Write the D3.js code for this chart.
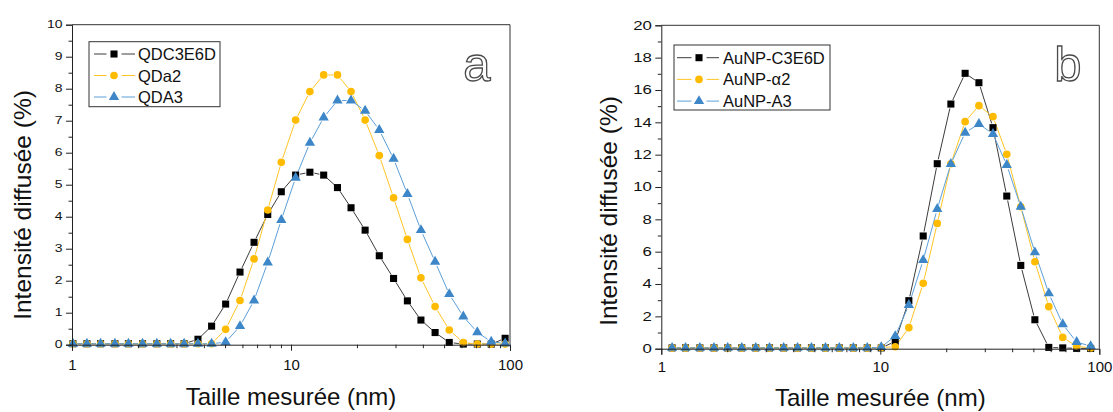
<!DOCTYPE html>
<html><head><meta charset="utf-8">
<script src="https://cdn.jsdelivr.net/npm/d3@7"></script>
<style>
body{margin:0;background:#fff}
svg{display:block}
text{font-family:"Liberation Sans", Arial, Helvetica, sans-serif; fill:#111}
</style>
</head><body>
<svg id="c" width="1113" height="412"></svg>
<script>
// ---------- DATA ----------
const sizesA = [1.01,1.17,1.35,1.57,1.81,2.10,2.44,2.82,3.25,3.76,4.34,5.03,5.85,6.78,7.83,9.03,10.5,12.2,14.1,16.3,18.8,21.8,25.3,29.4,34.0,39.2,45.5,52.8,61.2,70.9,82.1,95.0];
const qdc3e6d = [0.03,0.03,0.03,0.03,0.03,0.03,0.03,0.03,0.03,0.17,0.58,1.27,2.27,3.20,4.07,4.78,5.30,5.39,5.30,4.91,4.28,3.58,2.78,2.07,1.37,0.77,0.38,0.07,0.02,0.02,0.02,0.20];
const qda2    = [0.03,0.03,0.03,0.03,0.03,0.03,0.03,0.03,0.03,0.03,0.03,0.48,1.38,2.68,4.21,5.70,7.02,7.91,8.43,8.43,7.91,7.02,5.91,4.59,3.29,2.09,1.19,0.46,0.07,0.02,0.02,0.02];
const qda3    = [0.03,0.03,0.03,0.03,0.03,0.03,0.03,0.03,0.03,0.03,0.03,0.08,0.58,1.38,2.57,3.90,5.22,6.31,7.10,7.63,7.63,7.31,6.71,5.81,4.71,3.58,2.59,1.58,0.88,0.39,0.09,0.04];

const sizesB = [1.12,1.29,1.50,1.74,2.01,2.33,2.70,3.12,3.62,4.19,4.85,5.62,6.50,7.53,8.72,10.1,11.7,13.5,15.7,18.2,21.0,24.4,28.2,32.7,37.8,43.8,50.8,58.8,68.1,78.8,91.3];
const aunpC3E6D = [0.05,0.05,0.05,0.05,0.05,0.05,0.05,0.05,0.05,0.05,0.05,0.05,0.05,0.05,0.05,0.05,0.45,2.97,6.97,11.44,15.13,17.03,16.45,13.67,9.44,5.15,1.79,0.08,0.05,0.02,0.02];
const aunpA2    = [0.05,0.05,0.05,0.05,0.05,0.05,0.05,0.05,0.05,0.05,0.05,0.05,0.05,0.05,0.05,0.08,0.12,1.30,4.04,7.75,11.44,14.04,15.03,14.35,12.02,8.78,5.38,2.60,0.70,0.15,0.05];
const aunpA3    = [0.05,0.05,0.05,0.05,0.05,0.05,0.05,0.05,0.05,0.05,0.05,0.05,0.05,0.05,0.05,0.10,0.78,2.70,5.48,8.64,11.42,13.36,13.90,13.28,11.36,8.78,5.96,3.42,1.51,0.41,0.16];

const namesA = ["QDC3E6D","QDa2","QDA3"];
const namesB = ["AuNP-C3E6D","AuNP-\u03b12","AuNP-A3"];
const xTickValues = [1,10,100];
const yTicksA = [0,1,2,3,4,5,6,7,8,9,10];
const yTicksB = [0,2,4,6,8,10,12,14,16,18,20];
const xTitle = "Taille mesur\u00e9e (nm)";
const yTitle = "Intensit\u00e9 diffus\u00e9e (%)";
const panelLetters = ["a","b"];

// ---------- STYLE ----------
const styles = [
  {marker:"#000000", line:"#3c3c3c", sym:d3.symbolSquare, size:50},
  {marker:"#ffbb00", line:"#ffc526", sym:d3.symbolCircle, size:46},
  {marker:"#3d87c9", line:"#5d9fd8", sym:d3.symbolTriangle, size:46}
];

const svg = d3.select("#c");

function panel(cfg){
  const g = svg.append("g");
  const x = d3.scaleLog().domain([1,100]).range([cfg.left,cfg.right]);
  const y = d3.scaleLinear().domain([0,cfg.ymax]).range([cfg.bottom,cfg.top]);

  // series lines with gaps around symbols
  const gap = cfg.gap;
  cfg.series.forEach((vals,si)=>{
    const pts = cfg.sizes.map((s,i)=>[x(s),y(vals[i])]);
    const lg = g.append("g");
    for(let i=0;i<pts.length-1;i++){
      const [x0,y0]=pts[i],[x1,y1]=pts[i+1];
      const dx=x1-x0, dy=y1-y0, d=Math.hypot(dx,dy);
      if(d<=2*gap) continue;
      const ux=dx/d, uy=dy/d;
      lg.append("line")
        .attr("x1",x0+ux*gap).attr("y1",y0+uy*gap)
        .attr("x2",x1-ux*gap).attr("y2",y1-uy*gap)
        .attr("stroke",styles[si].line).attr("stroke-width",1);
    }
  });
  cfg.series.forEach((vals,si)=>{
    const st=styles[si];
    g.append("g").selectAll("path").data(cfg.sizes.map((s,i)=>[s,vals[i]])).join("path")
      .attr("transform",d=>`translate(${x(d[0])},${y(d[1])})`)
      .attr("d",d3.symbol(st.sym,st.size))
      .attr("fill",st.marker);
  });

  // frame
  g.append("path")
    .attr("d",`M${cfg.left},${cfg.top}H${cfg.right}V${cfg.bottom}`)
    .attr("fill","none").attr("stroke","#333").attr("stroke-width",1);

  // x axis
  const minorX = x.ticks().filter(v=>!xTickValues.includes(v));
  const xa = g.append("g").attr("transform",`translate(0,${cfg.bottom})`)
    .call(d3.axisBottom(x).tickValues(xTickValues).tickSize(6).tickFormat(d3.format("d")));
  xa.select(".domain").attr("stroke","#222");
  xa.selectAll(".tick line").attr("stroke","#222");
  xa.selectAll(".tick text").attr("y",cfg.xLabelOff).attr("dy","0")
    .style("font-size","15px").style("font-family",'"Liberation Sans", Arial, sans-serif').attr("fill","#111");
  const xm = g.append("g").attr("transform",`translate(0,${cfg.bottom})`)
    .call(d3.axisBottom(x).tickValues(minorX).tickSize(3.5).tickFormat(""));
  xm.select(".domain").remove();
  xm.selectAll(".tick line").attr("stroke","#222");

  // y axis
  const ya = g.append("g").attr("transform",`translate(${cfg.left},0)`)
    .call(d3.axisLeft(y).tickValues(cfg.yTicks).tickSize(6).tickFormat(d3.format("d")));
  ya.select(".domain").attr("stroke","#222");
  ya.selectAll(".tick line").attr("stroke","#222");
  ya.selectAll(".tick text")
    .style("font-size",cfg.yFont+"px").style("font-family",'"Liberation Sans", Arial, sans-serif').attr("fill","#111")
    .attr("x",-cfg.yLabelOff/cfg.yStretch)
    .attr("transform",`scale(${cfg.yStretch},1)`);
  const step = cfg.yTicks[1]-cfg.yTicks[0];
  const minorY = cfg.yTicks.slice(0,-1).map(v=>v+step/2);
  const ym = g.append("g").attr("transform",`translate(${cfg.left},0)`)
    .call(d3.axisLeft(y).tickValues(minorY).tickSize(3.5).tickFormat(""));
  ym.select(".domain").remove();
  ym.selectAll(".tick line").attr("stroke","#222");

  // titles
  g.append("text").attr("x",(cfg.left+cfg.right)/2).attr("y",cfg.xTitleY)
    .attr("text-anchor","middle").style("font-size","24px").text(xTitle);
  g.append("text").attr("transform",`translate(${cfg.yTitleX},${cfg.yTitleY}) rotate(-90)`)
    .attr("text-anchor","middle").style("font-size","24.5px").text(yTitle);

  // panel letter (outlined)
  g.append("text").attr("x",cfg.letterX).attr("y",cfg.letterY).attr("text-anchor","middle")
    .style("font-size","49px").style("fill","#fff").attr("stroke","#4a4a4a").attr("stroke-width",1.3)
    .text(cfg.letter);

  // legend
  const L = cfg.legend;
  g.append("rect").attr("x",L.x).attr("y",L.y).attr("width",L.w).attr("height",L.h)
    .attr("fill","#fff").attr("stroke","#333").attr("stroke-width",1);
  cfg.names.forEach((n,i)=>{
    const st=styles[i];
    const ry=L.row0+i*L.rowH;
    g.append("line").attr("x1",L.lx1).attr("x2",L.mx-7.5).attr("y1",ry).attr("y2",ry).attr("stroke",st.line).attr("stroke-width",1);
    g.append("line").attr("x1",L.mx+7.5).attr("x2",L.lx2).attr("y1",ry).attr("y2",ry).attr("stroke",st.line).attr("stroke-width",1);
    g.append("path").attr("transform",`translate(${L.mx},${ry})`).attr("d",d3.symbol(st.sym,st.size)).attr("fill",st.marker);
    g.append("text").attr("x",L.tx).attr("y",ry+6).style("font-size","16.5px").text(n);
  });
}

panel({left:72,right:510,top:24.7,bottom:344.7,ymax:10,yTicks:yTicksA,sizes:sizesA,
  series:[qdc3e6d,qda2,qda3],names:namesA,gap:4.5,
  yFont:10,yStretch:1.4,yLabelOff:9.5,xLabelOff:25.5,
  xTitleY:405,yTitleX:31,yTitleY:205,letter:panelLetters[0],letterX:477,letterY:81,
  legend:{x:89,y:41.7,w:131,h:65,row0:54,rowH:21.5,lx1:94,lx2:135,mx:114,tx:138}});

panel({left:661.3,right:1099.3,top:25.3,bottom:348.7,ymax:20,yTicks:yTicksB,sizes:sizesB,
  series:[aunpC3E6D,aunpA2,aunpA3],names:namesB,gap:4.5,
  yFont:12,yStretch:1.4,yLabelOff:9.5,xLabelOff:23.5,
  xTitleY:406,yTitleX:617,yTitleY:211,letter:panelLetters[1],letterX:1068,letterY:81,
  legend:{x:674,y:45,w:156,h:65,row0:57.7,rowH:21.7,lx1:677,lx2:719,mx:699,tx:723}});
</script>
</body></html>
